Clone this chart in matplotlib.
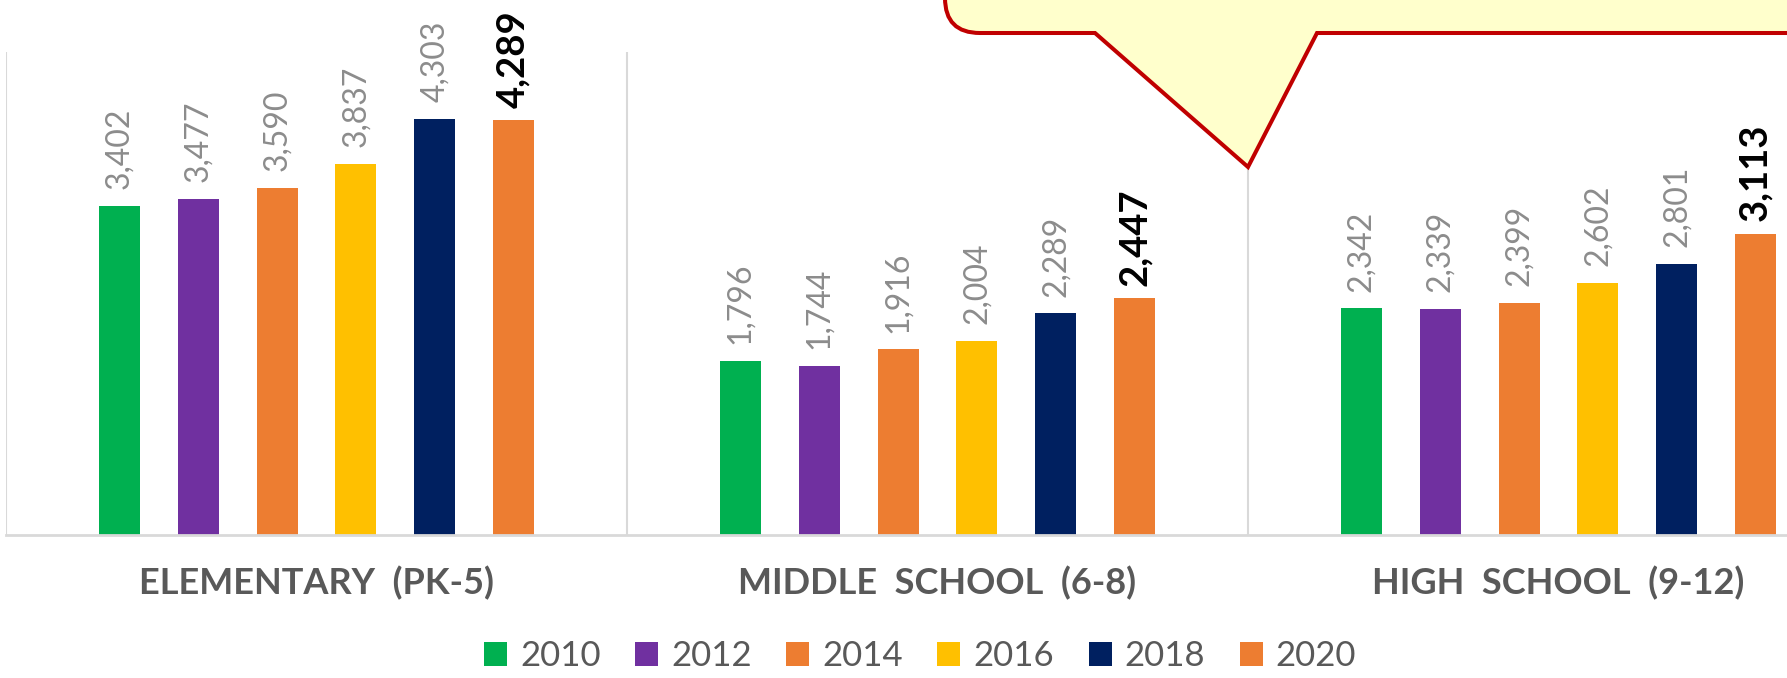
import matplotlib.pyplot as plt
import matplotlib.patches as mpatches
from matplotlib.path import Path
from matplotlib.transforms import blended_transform_factory
import numpy as np

plt.rcParams['font.family'] = ['Lato', 'DejaVu Sans']

categories = ["ELEMENTARY  (PK-5)", "MIDDLE  SCHOOL  (6-8)", "HIGH  SCHOOL  (9-12)"]
years = ["2010", "2012", "2014", "2016", "2018", "2020"]
colors = ["#00B050", "#7030A0", "#ED7D31", "#FFC000", "#002060", "#ED7D31"]

v2010 = [3402, 1796, 2342]
v2012 = [3477, 1744, 2339]
v2014 = [3590, 1916, 2399]
v2016 = [3837, 2004, 2602]
v2018 = [4303, 2289, 2801]
v2020 = [4289, 2447, 3113]
series = [v2010, v2012, v2014, v2016, v2018, v2020]

W, H = 1787, 678
fig = plt.figure(figsize=(W / 100, H / 100), dpi=100)

# axes run past the right edge, the third group is cut off like in the original
x0, x1 = 6, 1869
ybase, ytop = 534.5, 51.5
ax = fig.add_axes([x0 / W, 1 - ybase / H, (x1 - x0) / W, (ybase - ytop) / H])
ax.set_xlim(-0.5, 2.5)
ax.set_ylim(0, 5000)

grid = "#D9D9D9"
x = np.arange(len(categories))
step, bw = 0.127, 0.066
for i, (vals, c) in enumerate(zip(series, colors)):
    pos = x + (i - 2.5) * step
    ax.bar(pos, vals, width=bw, color=c, zorder=2)
    last = i == len(series) - 1
    for px, v in zip(pos, vals):
        ax.annotate(f"{v:,}", (px, v), xytext=(0, 9 if last else 12),
                    textcoords="offset points",
                    rotation=90, ha="center", va="bottom",
                    fontsize=27.5 if last else 23,
                    fontweight="bold" if last else "normal",
                    color="black" if last else "#8C8C8C")

for sep in [-0.5, 0.5, 1.5]:
    ax.axvline(sep, color=grid, lw=1.5, zorder=1)
for s in ["top", "right", "left"]:
    ax.spines[s].set_visible(False)
ax.spines["bottom"].set_color(grid)
ax.spines["bottom"].set_linewidth(2)
ax.set_xticks([])
ax.set_yticks([])

tr = blended_transform_factory(ax.transData, fig.transFigure)
for xi, name in zip(x, categories):
    ax.text(xi, 1 - 583 / H, name, transform=tr, ha="center", va="center",
            fontsize=26, fontweight="bold", color="#595959")

handles = [mpatches.Patch(facecolor=c) for c in colors]
fig.legend(handles, years, ncol=6, loc="center", bbox_to_anchor=(920 / W, 1 - 656 / H),
           frameon=False, fontsize=25, handlelength=0.66, handleheight=0.66,
           handletextpad=0.37, columnspacing=1.0, labelcolor="#595959",
           borderaxespad=0, borderpad=0)

# callout bubble at the top right
def fp(px, py):
    return (px / W, 1 - py / H)

r = 35
verts = [fp(945, -20), fp(945, 33 - r), fp(945, 33), fp(945 + r, 33),
         fp(1095, 33), fp(1248, 167), fp(1317, 33), fp(1820, 33),
         fp(1820, -20), fp(945, -20)]
codes = [Path.MOVETO, Path.LINETO, Path.CURVE3, Path.CURVE3,
         Path.LINETO, Path.LINETO, Path.LINETO, Path.LINETO,
         Path.LINETO, Path.CLOSEPOLY]
bubble = mpatches.PathPatch(Path(verts, codes), transform=fig.transFigure,
                            facecolor="#FFFFCC", edgecolor="#C00000", lw=2.9,
                            joinstyle="miter", zorder=10)
fig.add_artist(bubble)

fig.savefig("out.png", dpi=100)
